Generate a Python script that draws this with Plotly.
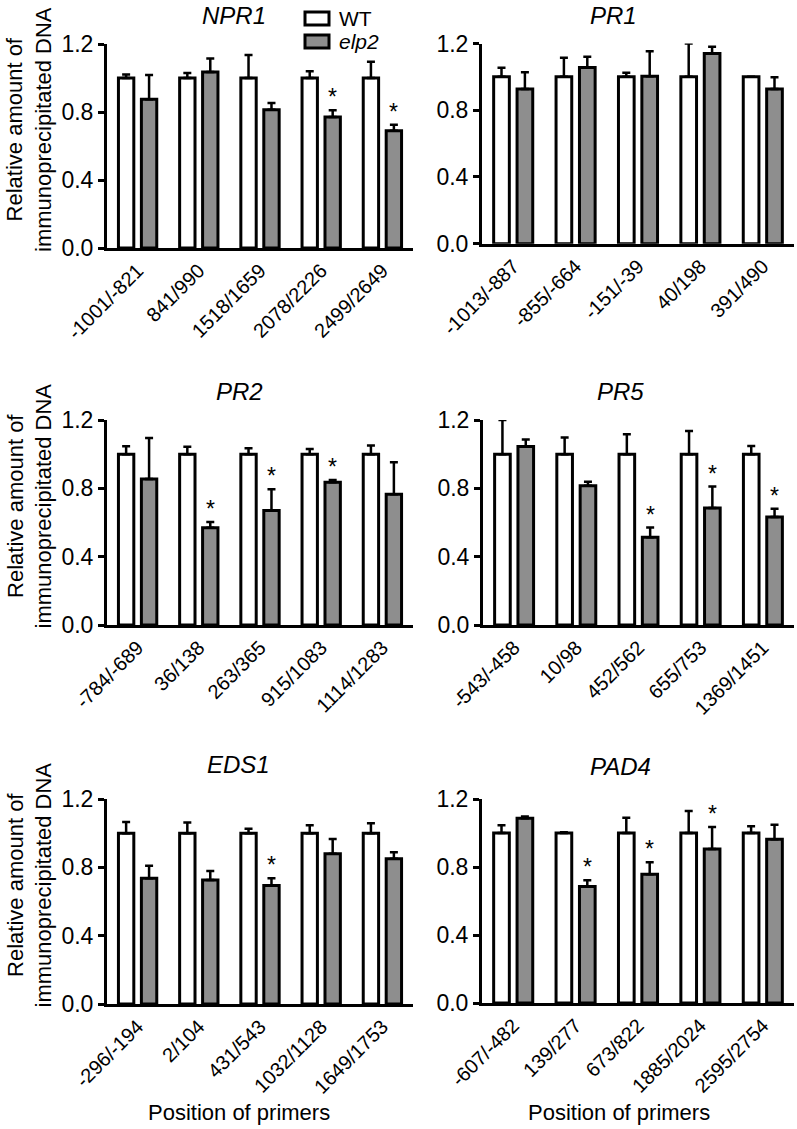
import plotly.graph_objects as go

W, H = 797, 1129
FONT = "Arial, Liberation Sans, sans-serif"
GRAY = "#8e8e8e"

# ---------------- data ----------------
npr1_cats = ["-1001/-821", "841/990", "1518/1659", "2078/2226", "2499/2649"]
npr1_wt = [1.0, 1.0, 1.0, 1.0, 1.0]
npr1_wt_err = [0.02, 0.03, 0.135, 0.04, 0.095]
npr1_elp2 = [0.875, 1.035, 0.813, 0.77, 0.69]
npr1_elp2_err = [0.143, 0.08, 0.04, 0.04, 0.035]
npr1_star = [False, False, False, True, True]

pr1_cats = ["-1013/-887", "-855/-664", "-151/-39", "40/198", "391/490"]
pr1_wt = [1.0, 1.0, 1.0, 1.0, 1.0]
pr1_wt_err = [0.054, 0.114, 0.024, 0.2, 0.0]
pr1_elp2 = [0.928, 1.056, 1.004, 1.14, 0.928]
pr1_elp2_err = [0.10, 0.064, 0.15, 0.04, 0.07]
pr1_star = [False, False, False, False, False]

pr2_cats = ["-784/-689", "36/138", "263/365", "915/1083", "1114/1283"]
pr2_wt = [1.0, 1.0, 1.0, 1.0, 1.0]
pr2_wt_err = [0.047, 0.043, 0.034, 0.03, 0.05]
pr2_elp2 = [0.855, 0.57, 0.67, 0.835, 0.765]
pr2_elp2_err = [0.24, 0.033, 0.125, 0.014, 0.187]
pr2_star = [False, True, True, True, False]

pr5_cats = ["-543/-458", "10/98", "452/562", "655/753", "1369/1451"]
pr5_wt = [1.0, 1.0, 1.0, 1.0, 1.0]
pr5_wt_err = [0.2, 0.098, 0.116, 0.136, 0.048]
pr5_elp2 = [1.045, 0.815, 0.513, 0.685, 0.632]
pr5_elp2_err = [0.041, 0.023, 0.057, 0.125, 0.049]
pr5_star = [False, False, True, True, True]

eds1_cats = ["-296/-194", "2/104", "431/543", "1032/1128", "1649/1753"]
eds1_wt = [1.0, 1.0, 1.0, 1.0, 1.0]
eds1_wt_err = [0.065, 0.063, 0.026, 0.046, 0.058]
eds1_elp2 = [0.736, 0.726, 0.693, 0.88, 0.85]
eds1_elp2_err = [0.074, 0.052, 0.043, 0.086, 0.039]
eds1_star = [False, False, True, False, False]

pad4_cats = ["-607/-482", "139/277", "673/822", "1885/2024", "2595/2754"]
pad4_wt = [1.0, 1.0, 1.0, 1.0, 1.0]
pad4_wt_err = [0.045, 0.005, 0.09, 0.13, 0.04]
pad4_elp2 = [1.087, 0.685, 0.758, 0.906, 0.963]
pad4_elp2_err = [0.01, 0.037, 0.07, 0.13, 0.086]
pad4_star = [False, True, True, True, False]

panels = [
    ("NPR1", npr1_cats, npr1_wt, npr1_wt_err, npr1_elp2, npr1_elp2_err, npr1_star),
    ("PR1", pr1_cats, pr1_wt, pr1_wt_err, pr1_elp2, pr1_elp2_err, pr1_star),
    ("PR2", pr2_cats, pr2_wt, pr2_wt_err, pr2_elp2, pr2_elp2_err, pr2_star),
    ("PR5", pr5_cats, pr5_wt, pr5_wt_err, pr5_elp2, pr5_elp2_err, pr5_star),
    ("EDS1", eds1_cats, eds1_wt, eds1_wt_err, eds1_elp2, eds1_elp2_err, eds1_star),
    ("PAD4", pad4_cats, pad4_wt, pad4_wt_err, pad4_elp2, pad4_elp2_err, pad4_star),
]

# ---------------- layout geometry (page pixels) ----------------
boxes = [
    (107, 413, 44, 248), (482, 794, 43.5, 243.7),
    (107, 413, 420, 625), (483, 794, 420, 625),
    (107, 413, 799, 1004), (482, 794, 799, 1003),
]
titles_pos = [(234, 15), (613, 15), (240, 391), (620, 391), (238, 764), (620, 766)]
BARGAP = 0.25
BARGROUPGAP = 0.33

def px_x(v):
    return v / W

def px_y(v):
    return 1 - v / H

fig = go.Figure()
layout = dict(
    width=W, height=H,
    margin=dict(l=0, r=0, t=0, b=0, autoexpand=False),
    paper_bgcolor="white", plot_bgcolor="white",
    barmode="group", bargap=BARGAP, bargroupgap=BARGROUPGAP,
    showlegend=False,
    font=dict(family=FONT, color="black"),
)
annotations = []
shapes = []

for i, (name, cats, wt, wt_err, elp, elp_err, star) in enumerate(panels):
    n = "" if i == 0 else str(i + 1)
    xa, ya = "x" + n, "y" + n
    x0, x1, yt, yb = boxes[i]
    fig.add_trace(go.Bar(
        x=cats, y=wt, name="WT", xaxis=xa, yaxis=ya,
        marker=dict(color="white", line=dict(color="black", width=3)),
        error_y=dict(type="data", array=wt_err, arrayminus=[0] * len(wt_err),
                     symmetric=False, color="black", thickness=2.5, width=4),
        offsetgroup="wt",
    ))
    fig.add_trace(go.Bar(
        x=cats, y=elp, name="elp2", xaxis=xa, yaxis=ya,
        marker=dict(color=GRAY, line=dict(color="black", width=3)),
        error_y=dict(type="data", array=elp_err, arrayminus=[0] * len(elp_err),
                     symmetric=False, color="black", thickness=2.5, width=4),
        offsetgroup="elp2",
    ))
    layout["xaxis" + n] = dict(
        domain=[px_x(x0), px_x(x1)], anchor=ya, automargin=False,
        showline=True, linecolor="black", linewidth=3,
        ticks="", tickangle=-45, tickfont=dict(size=20, family=FONT),
        showgrid=False, zeroline=False, fixedrange=True,
        range=[-0.5, len(cats) - 0.5],
    )
    layout["yaxis" + n] = dict(
        domain=[px_y(yb), px_y(yt)], anchor=xa, automargin=False,
        range=[0, 1.2], tickvals=[0, 0.4, 0.8, 1.2], tickformat=".1f",
        showline=True, linecolor="black", linewidth=3,
        ticks="outside", ticklen=6, tickwidth=3, tickcolor="black",
        tickfont=dict(size=23, family=FONT),
        showgrid=False, zeroline=False, fixedrange=True,
    )
    # significance stars above the elp2 bars
    cat_px = (x1 - x0) / len(cats)
    offset = cat_px * (1 - BARGAP) / 4
    for c, v, e, s in zip(cats, elp, elp_err, star):
        if s:
            annotations.append(dict(
                x=c, y=v + e, xref=xa, yref=ya, text="*", showarrow=False,
                xshift=offset, yanchor="bottom", yshift=-2,
                font=dict(size=23, family=FONT, color="black"),
            ))
    tx, ty = titles_pos[i]
    annotations.append(dict(
        x=px_x(tx), y=px_y(ty), xref="paper", yref="paper",
        text="<i>%s</i>" % name, showarrow=False,
        xanchor="center", yanchor="middle",
        font=dict(size=24, family=FONT, color="black"),
    ))
    if i % 2 == 0:
        annotations.append(dict(
            x=px_x(29), y=px_y((yt + yb) / 2 - 16), xref="paper", yref="paper",
            text="Relative amount of<br>immunoprecipitated DNA", showarrow=False,
            textangle=-90, xanchor="center", yanchor="middle",
            font=dict(size=22, family=FONT, color="black"),
        ))

# x-axis titles
for cx in (239, 619):
    annotations.append(dict(
        x=px_x(cx), y=px_y(1112), xref="paper", yref="paper",
        text="Position of primers", showarrow=False,
        xanchor="center", yanchor="middle",
        font=dict(size=22, family=FONT, color="black"),
    ))

# legend
legend_items = [("WT", "white", 12, 25), ("<i>elp2</i>", GRAY, 35, 48)]
for label, col, yt, yb in legend_items:
    shapes.append(dict(
        type="rect", xref="paper", yref="paper",
        x0=px_x(305), x1=px_x(329), y0=px_y(yb), y1=px_y(yt),
        fillcolor=col, line=dict(color="black", width=3),
    ))
    annotations.append(dict(
        x=px_x(337), y=px_y((yt + yb) / 2), xref="paper", yref="paper",
        text=label, showarrow=False, xanchor="left", yanchor="middle",
        font=dict(size=21, family=FONT, color="black"),
    ))

layout["annotations"] = annotations
layout["shapes"] = shapes
fig.update_layout(**layout)
fig.write_html(
    "out.html",
    config={"displayModeBar": False, "staticPlot": True},
    post_script="document.body.style.margin='0px';document.body.style.overflow='hidden';",
)
